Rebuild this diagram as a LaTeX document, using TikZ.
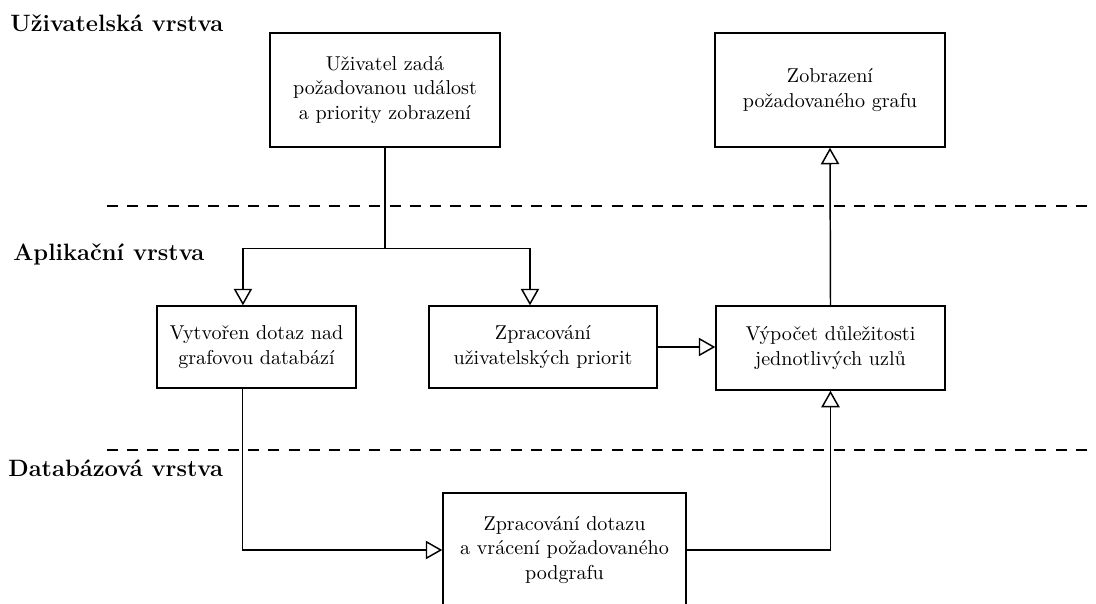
\documentclass[tikz,border=0pt]{standalone}
\usetikzlibrary{arrows.meta}
\begin{document}
\begin{tikzpicture}[x=0.545pt,y=-0.545pt,
  box/.style={draw,line width=0.8pt,align=center,inner sep=0pt,
    font=\fontsize{10.95}{13.2}\selectfont},
  flow/.style={line width=0.8pt,-{Triangle[open,length=9pt,width=10pt]}},
  link/.style={line width=0.8pt},
  layer/.style={font=\fontsize{12.9}{15}\selectfont\bfseries,anchor=base west,inner sep=0pt},
  divider/.style={line width=0.6pt,dash pattern=on 6pt off 5pt}]
\clip (0,0) rectangle (1096,603);

% layer titles
\node[layer] (lu) at (10,31) {Uživatelská vrstva};
\node[layer] (la) at (13,260) {Aplikační vrstva};
\node[layer] (ld) at (8,476) {Databázová vrstva};

% layer separators
\draw[divider] (107,206) -- (1096,206);
\draw[divider] (107,450) -- (1096,450);

% process boxes
\node[box,minimum width=230*0.545pt,minimum height=114*0.545pt] (A) at (385,90)
  {Uživatel zadá\\požadovanou událost\\a priority zobrazení};
\node[box,minimum width=230*0.545pt,minimum height=114*0.545pt] (B) at (830,90)
  {Zobrazení\\požadovaného grafu};
\node[box,minimum width=199*0.545pt,minimum height=82*0.545pt] (C) at (256.5,347)
  {Vytvořen dotaz nad\\grafovou databází};
\node[box,minimum width=228*0.545pt,minimum height=82*0.545pt] (D) at (543,347)
  {Zpracování\\uživatelských priorit};
\node[box,minimum width=229*0.545pt,minimum height=84*0.545pt] (E) at (830.5,348)
  {Výpočet důležitosti\\jednotlivých uzlů};
\node[box,minimum width=243*0.545pt,minimum height=114*0.545pt] (F) at (564.5,550)
  {Zpracování dotazu\\a vrácení požadovaného\\podgrafu};

% connectors
\draw[link] (A.south) -- ++(0,101) coordinate (split);
\draw[flow] (split) -| ([xshift=-7.4pt]C.north);
\draw[flow] (split) -| ([xshift=-7.1pt]D.north);
\draw[flow] ([xshift=-7.6pt]C.south) |- (F.west);
\draw[flow] (F.east) -| (E.south);
\draw[flow] (D.east) -- (D.east -| E.west);
\draw[flow] (E.north) -- (B.south);
\end{tikzpicture}
\end{document}
